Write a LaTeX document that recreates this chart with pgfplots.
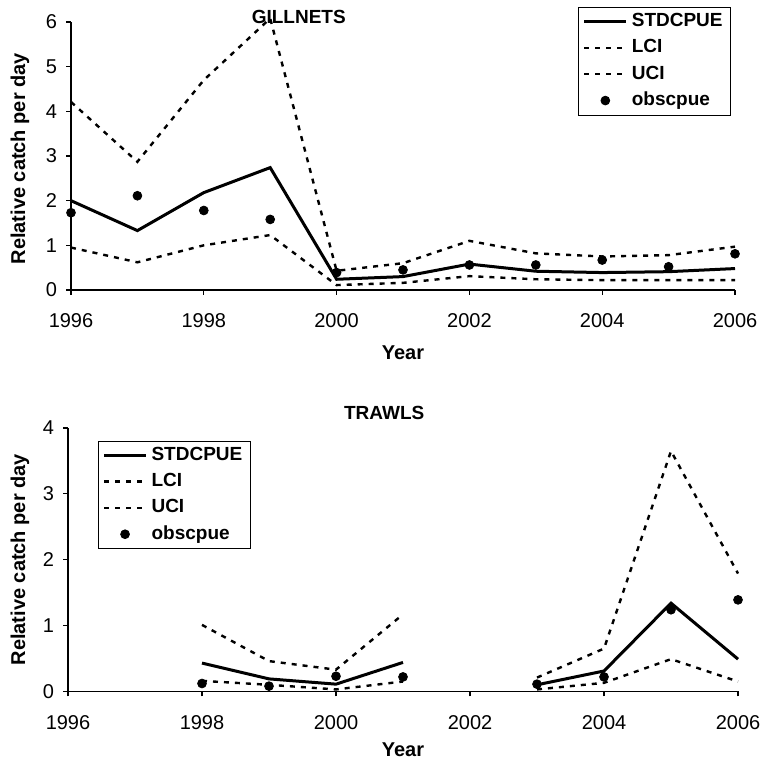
\documentclass[border=0pt]{standalone}
\usepackage{fontspec}
\setmainfont{Liberation Sans}
\usepackage{pgfplots}
\usepackage{pgfplotstable}
\pgfplotsset{compat=1.18}

\pgfplotstableread{
year std lci uci obs
1996 2.00 0.95 4.21 1.73
1997 1.33 0.62 2.87 2.11
1998 2.18 1.00 4.70 1.78
1999 2.74 1.23 6.08 1.58
2000 0.24 0.11 0.43 0.39
2001 0.30 0.16 0.60 0.45
2002 0.58 0.31 1.10 0.56
2003 0.42 0.24 0.82 0.56
2004 0.39 0.22 0.75 0.67
2005 0.41 0.22 0.78 0.52
2006 0.48 0.22 0.97 0.81
}\gillnets

\pgfplotstableread{
year std lci uci obs
1998 0.43 0.16 1.01 0.12
1999 0.19 0.10 0.46 0.08
2000 0.11 0.03 0.33 0.23
2001 0.44 0.15 1.17 0.22
2002 nan nan nan nan
2003 0.10 0.03 0.21 0.11
2004 0.31 0.13 0.65 0.22
2005 1.34 0.49 3.65 1.24
2006 0.49 0.15 1.79 1.39
}\trawls

\pgfplotsset{
  common/.style={
    scale only axis,
    axis lines=left,
    axis line style={-, line width=0.6pt},
    tick align=outside,
    major tick length=2.5pt,
    tick style={black, line width=0.6pt},
    xmin=1996, xmax=2006,
    xtick={1996,1998,2000,2002,2004,2006},
    ymin=0,
    ytick distance=1,
    clip=false,
    unbounded coords=jump,
    /pgf/number format/assume math mode=true,
    /pgf/number format/1000 sep={},
    tick label style={font=\fontsize{10}{12}\selectfont},
    xticklabel style={anchor=center, yshift=-13pt},
    yticklabel style={anchor=east, xshift=-1pt},
    xlabel={Year},
    ylabel={Relative catch per day},
    label style={font=\fontsize{10}{12}\selectfont\bfseries},
    every axis title shift=0pt,
    title style={font=\fontsize{9.5}{11}\selectfont\bfseries},
    legend style={draw=black, thin, fill=white,
      font=\fontsize{9.5}{11}\selectfont\bfseries,
      inner xsep=2pt, inner ysep=1pt, row sep=1pt},
    legend cell align=left,
  },
  stdl/.style={black, line width=1.5pt,
    legend image code/.code={\draw[##1] (0pt,0pt) -- (21pt,0pt);}},
  cil/.style={black, line width=1.2pt, dash pattern=on 2.5pt off 3pt,
    legend image code/.code={\draw[##1] (0pt,0pt) -- (21pt,0pt);}},
  obsl/.style={black, only marks, mark=*, mark size=2.2pt,
    legend image code/.code={\draw[##1] plot coordinates {(10.5pt,0pt)};}},
}

\begin{document}
\begin{tikzpicture}
\useasboundingbox (0pt,0pt) rectangle (380.5pt,-381.5pt);

\begin{axis}[common,
  at={(35.5pt,-11pt)}, anchor=north west,
  width=332pt, height=134pt,
  ymax=6,
  title={GILLNETS},
  title style={at={(axis description cs:0.343,1.019)}, anchor=center},
  ylabel style={at={(axis description cs:-0.077,0.49)}, anchor=center},
  xlabel style={at={(axis description cs:0.5,-0.235)}, anchor=center},
  legend style={at={(axis description cs:0.994,1.056)}, anchor=north east},
]
\addplot[stdl] table[x=year, y=std] {\gillnets};
\addlegendentry{STDCPUE}
\addplot[cil] table[x=year, y=lci] {\gillnets};
\addlegendentry{LCI}
\addplot[cil] table[x=year, y=uci] {\gillnets};
\addlegendentry{UCI}
\addplot[obsl] table[x=year, y=obs] {\gillnets};
\addlegendentry{obscpue}
\end{axis}

\begin{axis}[common,
  at={(34pt,-214pt)}, anchor=north west,
  width=335pt, height=131.7pt,
  ymax=4,
  title={TRAWLS},
  title style={at={(axis description cs:0.472,1.057)}, anchor=center},
  ylabel style={at={(axis description cs:-0.0716,0.5)}, anchor=center},
  xlabel style={at={(axis description cs:0.5,-0.222)}, anchor=center},
  legend style={at={(axis description cs:0.045,0.952)}, anchor=north west},
]
\addplot[stdl] table[x=year, y=std] {\trawls};
\addlegendentry{STDCPUE}
\addplot[cil] table[x=year, y=lci] {\trawls};
\addlegendentry{LCI}
\addplot[cil] table[x=year, y=uci] {\trawls};
\addlegendentry{UCI}
\addplot[obsl] table[x=year, y=obs] {\trawls};
\addlegendentry{obscpue}
\end{axis}
\end{tikzpicture}
\end{document}
